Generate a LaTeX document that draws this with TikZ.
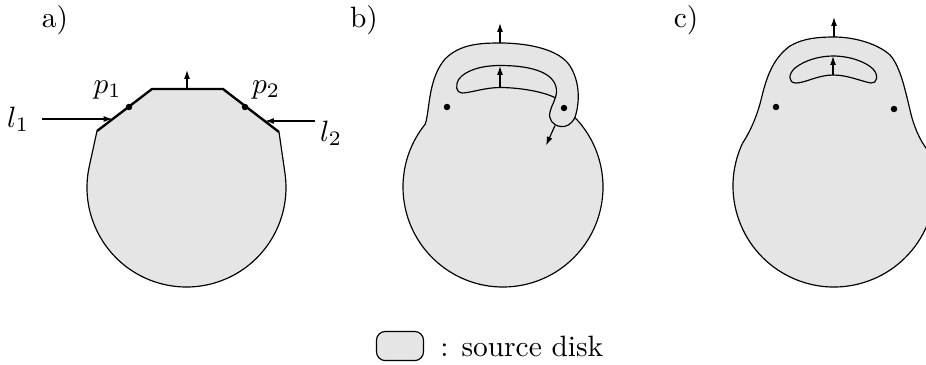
\documentclass[tikz,border=0pt]{standalone}
\usetikzlibrary{arrows.meta, calc, positioning}
\definecolor{diskgray}{RGB}{229,229,229}

\begin{document}
\begin{tikzpicture}[
            x=0.34pt, y=0.34pt,
            disk/.style={fill=diskgray},
            rim/.style={line width=0.4pt},
            cut/.style={line width=0.8pt, line join=miter},
            normal/.style={-{Latex[length=3pt, width=2pt]}, line width=0.4pt},
            spot/.style={circle, fill, inner sep=0pt, minimum size=2.2pt}
        ]
            \useasboundingbox (0,0) rectangle (926,364);
            \clip (0,0) rectangle (926,364);
            % a) disk cut along l1 and l2
            \node (la) at (55,343.5) {a)};
            \coordinate (ca) at (186.5,176.5);
            \coordinate (ta1) at (152,275);
            \coordinate (ta2) at (223,275);
            \coordinate (sa1) at (97,233);
            \coordinate (sa2) at (279,232);
            \coordinate (ja1) at ($(ca)+(167:99.5)$);
            \fill[disk] (sa1) -- (ja1) arc[start angle=167, end angle=368, radius=99.5] -- (sa2) -- (ta2) -- (ta1) -- cycle;
            \draw[rim] (sa1) -- (ja1) arc[start angle=167, end angle=368, radius=99.5] -- (sa2);
            \draw[cut] (sa1) -- (ta1) -- (ta2) -- (sa2);
            \draw[normal] (187,275) -- (187,294);
            \node[spot] (p1) at (129,257) {};
            \node[spot] (p2) at (245,257) {};
            \node (p1lbl) at (107.5,274) {$p_1$};
            \node (p2lbl) at (266,274) {$p_2$};
            \node (l1) at (18,244.5) {$l_1$};
            \node (l2) at (331,231) {$l_2$};
            \coordinate (h1) at (112.5,245);
            \coordinate (h2) at (265,243);
            \draw[normal] ($(l1.east |- h1)+(3,0)$) -- (h1);
            \draw[normal] ($(l2.west |- h2)+(5,0)$) -- (h2);
            % b) finger curling round p2
            \node (lb) at (364,343.5) {b)};
            \coordinate (cb) at (503,177);
            \coordinate (jb1) at ($(cb)+(141:100)$);
            \coordinate (jb2) at ($(cb)+(44:100)$);
            \fill[disk] (jb1) .. controls (430,255) and (428,285) .. (445,305) .. controls (460,320) and (480,321) .. (500,321)
                .. controls (530,321) and (560,314) .. (570,298) .. controls (580,282) and (580,262) .. (jb2)
                arc[start angle=44, end angle=-219, radius=100] -- cycle;
            \draw[rim] (jb1) arc[start angle=141, end angle=404, radius=100];
            \draw[rim] (jb1) .. controls (430,255) and (428,285) .. (445,305) .. controls (460,320) and (480,321) .. (500,321)
                .. controls (530,321) and (560,314) .. (570,298) .. controls (580,282) and (580,262) .. (jb2)
                .. controls (571,239) and (566,237) .. (561,237.5) .. controls (553,238) and (548,245) .. (550,252)
                .. controls (551,258) and (556,264) .. (556.5,272) .. controls (557,290) and (535,298.5) .. (500,298.5)
                .. controls (480,298.5) and (465,293) .. (459,285) .. controls (455,279) and (456,271) .. (462,271)
                .. controls (470,271) and (485,276.5) .. (500,276.5) .. controls (520,276.5) and (545,272) .. (555.5,266);
            \draw[normal] (500,321) -- (500,341);
            \draw[normal] (500,276.5) -- (500,298);
            \draw[normal] (555,238.5) -- (546,218.5);
            \node[spot] (q1) at (447,257) {};
            \node[spot] (q2) at (564,256) {};
            % c) finger pulled back over the top
            \node (lc) at (686,343.5) {c)};
            \coordinate (cc) at (834,178);
            \coordinate (jc1) at ($(cc)+(155:101)$);
            \coordinate (jc2) at ($(cc)+(20:101)$);
            \fill[disk] (jc1) .. controls (750,232) and (757,248) .. (761,264) .. controls (766,285) and (772,305) .. (790,318)
                .. controls (803,326) and (820,327) .. (834,327) .. controls (855,327) and (878,320) .. (890,309)
                .. controls (900,298) and (905,275) .. (910,254) .. controls (913,240) and (920,222) .. (jc2)
                arc[start angle=20, end angle=-205, radius=101] -- cycle;
            \draw[rim] (jc1) arc[start angle=155, end angle=380, radius=101];
            \draw[rim] (jc1) .. controls (750,232) and (757,248) .. (761,264) .. controls (766,285) and (772,305) .. (790,318)
                .. controls (803,326) and (820,327) .. (834,327) .. controls (855,327) and (878,320) .. (890,309)
                .. controls (900,298) and (905,275) .. (910,254) .. controls (913,240) and (920,222) .. (jc2);
            \draw[rim] (833,308) .. controls (850,308) and (866,302) .. (873,295) .. controls (879,289) and (877,280) .. (871,281)
                .. controls (860,283) and (848,289) .. (833,289) .. controls (818,289) and (805,281) .. (796,281)
                .. controls (788,281) and (788,290) .. (795,296) .. controls (805,304) and (820,308) .. (833,308) -- cycle;
            \draw[normal] (834,327) -- (834,347);
            \draw[normal] (833,289) -- (833,308);
            \node[spot] (r1) at (776,257) {};
            \node[spot] (r2) at (894,255) {};
            % key
            \node[draw, rim, disk, rounded corners=3pt, inner sep=0pt, minimum width=16pt, minimum height=9.9pt] (key) at (400,18) {};
            \node[right=5.3pt of key, inner sep=0pt] (keytxt) {: source disk};
        \end{tikzpicture}
\end{document}
